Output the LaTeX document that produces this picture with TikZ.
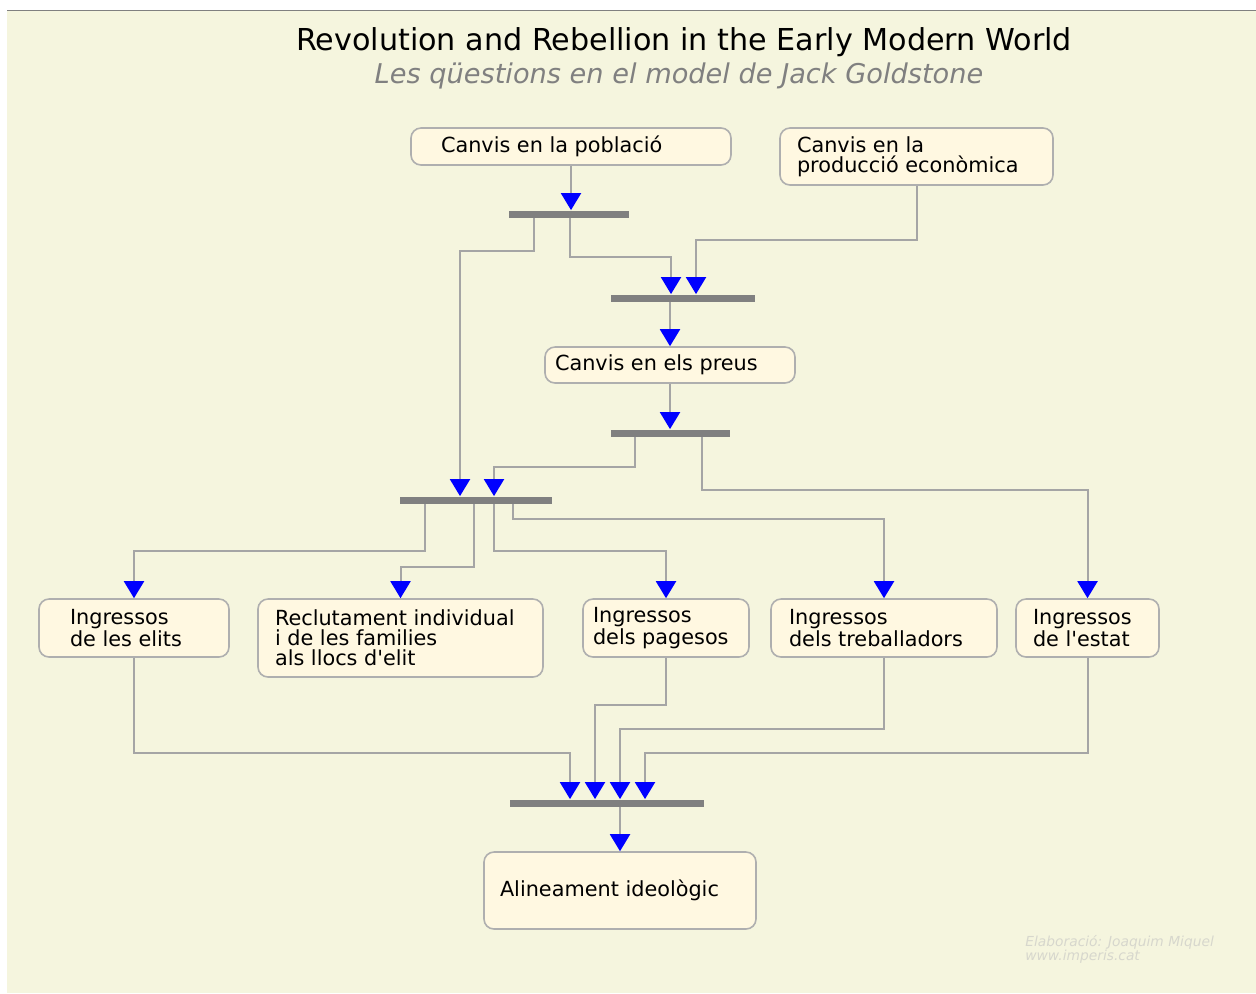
\documentclass[tikz,border=0pt]{standalone}
\usepackage{fontspec}
\setmainfont{DejaVu Sans}
\usepackage{tikz}
\usetikzlibrary{arrows.meta, positioning}
\definecolor{bgbeige}{RGB}{245,245,222}
\definecolor{boxfill}{RGB}{255,248,225}
\definecolor{boxline}{RGB}{175,175,175}
\definecolor{linkgray}{RGB}{165,165,165}
\definecolor{bargray}{RGB}{128,128,128}
\definecolor{subgray}{RGB}{128,128,128}
\definecolor{creditgray}{RGB}{215,215,205}
\tikzset{
    box/.style={rectangle, draw=boxline, thick, fill=boxfill, rounded corners=5pt, align=flush left, inner ysep=2pt, font=\fontsize{10.4}{10}\selectfont},
    bar/.style={rectangle, fill=bargray, minimum height=3.5pt, inner sep=0pt},
    link/.style={draw=linkgray, line width=1pt, -{Triangle[width=10pt, length=8.5pt, color=blue]}},
    credit/.style={font=\fontsize{6.9}{7}\selectfont\itshape, text=creditgray, align=left, inner sep=0pt}
}

\begin{document}
\begin{tikzpicture}[x=0.5pt, y=-0.5pt]
    \useasboundingbox (0,0) rectangle (1256,993);
    % Background
    \fill[bgbeige] (7,11) rectangle (1256,993);
    \draw[bargray, line width=0.8pt] (7,10.5) -- (1256,10.5);

    % Title
    \node[font=\fontsize{15.1}{18}\selectfont] (title) at (684,42) {Revolution and Rebellion in the Early Modern World};
    \node[font=\fontsize{13.6}{16}\selectfont\itshape, text=subgray] (subtitle) at (679,76) {Les qüestions en el model de Jack Goldstone};

    % Boxes
    \node[box, minimum height=18.5pt, inner xsep=15pt, text width=130pt] (pob) at (571,146.5) {Canvis en la població};
    \node[box, minimum height=28.5pt, inner xsep=8.5pt, text width=119.5pt] (prod) at (916.5,156.5) {Canvis en la\\producció econòmica};
    \node[box, minimum height=18pt, inner xsep=5pt, text width=115pt] (preus) at (670,365) {Canvis en els preus};
    \node[box, minimum height=29pt, inner xsep=15.5pt, text width=64pt] (elits) at (134,628) {Ingressos\\de les elits};
    \node[box, minimum height=39pt, inner xsep=8.5pt, text width=125.5pt] (recl) at (400.5,638) {Reclutament individual\\i de les families\\als llocs d\textquotesingle elit};
    \node[box, minimum height=29pt, inner xsep=5pt, text width=73pt] (pag) at (666,628) {Ingressos\\dels pagesos};
    \node[box, minimum height=29pt, inner xsep=9pt, text width=95pt] (treb) at (884,628) {Ingressos\\dels treballadors};
    \node[box, minimum height=29pt, inner xsep=8.5pt, text width=54.5pt] (estat) at (1087.5,628) {Ingressos\\de l\textquotesingle estat};
    \node[box, minimum height=38.5pt, inner xsep=8pt, text width=120pt] (alin) at (620,890.5) {Alineament ideològic};

    % Bars
    \node[bar, minimum width=60pt] (b1) at (569,214) {};
    \node[bar, minimum width=72pt] (b2) at (683,298) {};
    \node[bar, minimum width=59.5pt] (b3) at (670.5,433) {};
    \node[bar, minimum width=76pt] (b4) at (476,500) {};
    \node[bar, minimum width=97pt] (b5) at (607,803) {};

    % Links
    \draw[link] (pob) -- (pob |- b1.north);
    \draw[link] (570,0 |- b1.south) -- (570,257) -| (671,0 |- b2.north);
    \draw[link] (534,0 |- b1.south) -- (534,251) -| (460,0 |- b4.north);
    \draw[link] (prod) -- (prod |- 0,240) -| (696,0 |- b2.north);
    \draw[link] (preus |- b2.south) -- (preus);
    \draw[link] (preus) -- (preus |- b3.north);
    \draw[link] (635,0 |- b3.south) -- (635,467) -| (494,0 |- b4.north);
    \draw[link] (702,0 |- b3.south) -- (702,490) -| (estat);
    \draw[link] (425,0 |- b4.south) -- (425,551) -| (elits);
    \draw[link] (474,0 |- b4.south) -- (474,567) -| (recl);
    \draw[link] (494,0 |- b4.south) -- (494,551) -| (pag);
    \draw[link] (513,0 |- b4.south) -- (513,519) -| (treb);
    \draw[link] (elits) -- (elits |- 0,753) -| (570,0 |- b5.north);
    \draw[link] (pag) -- (pag |- 0,705) -| (595,0 |- b5.north);
    \draw[link] (treb) -- (treb |- 0,729) -| (620,0 |- b5.north);
    \draw[link] (estat) -- (estat |- 0,753) -| (645,0 |- b5.north);
    \draw[link] (alin |- b5.south) -- (alin);

    % Credits
    \node[credit, anchor=north west] (credit) at (1025,935) {Elaboració: Joaquim Miquel\\www.imperis.cat};
\end{tikzpicture}
\end{document}
